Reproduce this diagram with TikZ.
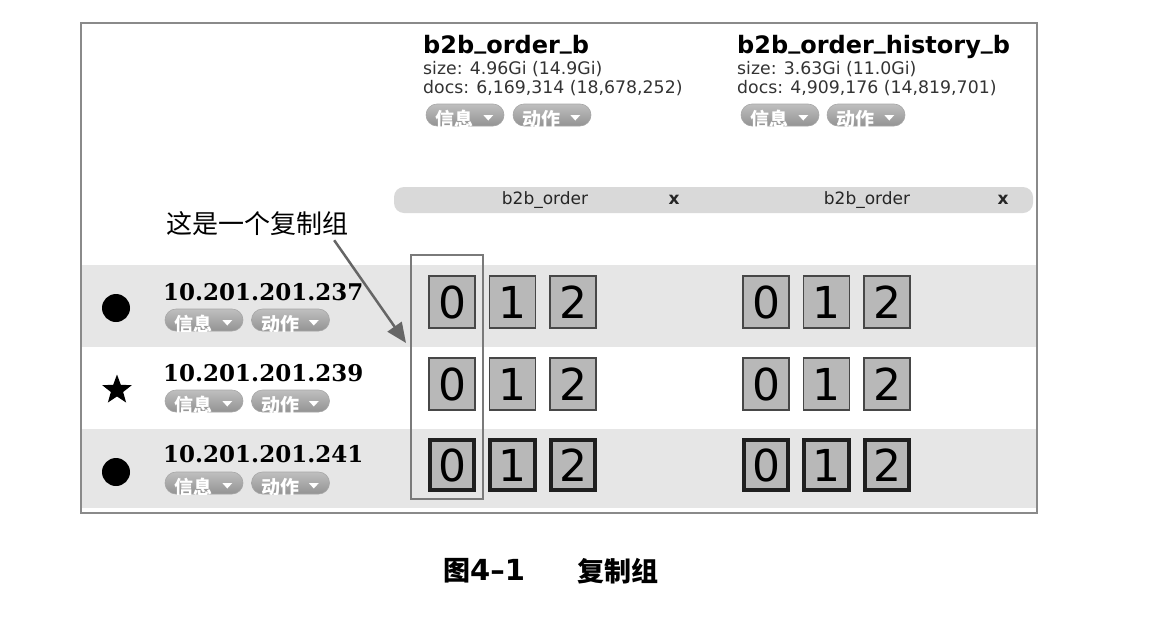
\documentclass[tikz,border=0pt]{standalone}
\usepackage{fontspec}
\setmainfont{DejaVu Sans}
\newfontfamily\ipfont{DejaVu Serif}
\newfontfamily\cjk{Noto Sans CJK SC}
\usetikzlibrary{arrows.meta,shapes.geometric}
\definecolor{band}{HTML}{E6E6E6}
\definecolor{barcol}{HTML}{D9D9D9}
\definecolor{shardfill}{HTML}{B8B8B8}
\definecolor{shardline}{HTML}{474747}
\definecolor{framecol}{HTML}{8A8A8A}
\definecolor{grpcol}{HTML}{7A7A7A}
\definecolor{arrowcol}{HTML}{666666}
\newcommand\usc{\raisebox{5pt}{\_}}
\tikzset{
  pillbox/.style={rounded corners=11pt, minimum width=78pt, minimum height=22pt, inner sep=0pt,
    top color=gray!50, bottom color=gray!85, draw=gray!70, line width=0.6pt},
  pilltext/.style={text=white, inner sep=0pt, anchor=west, font=\cjk\bfseries\fontsize{19}{19}\selectfont},
  shard/.style={draw=shardline, fill=shardfill, line width=1.8pt, minimum width=46pt, minimum height=52pt,
    inner sep=0pt, font=\fontsize{44}{44}\selectfont},
  primary/.style={shard, draw=black!88, line width=3.6pt, minimum width=44.5pt, minimum height=50.5pt},
  title/.style={anchor=base west, inner sep=0pt, font=\bfseries\fontsize{24}{24}\selectfont},
  info/.style={anchor=base west, inner sep=0pt, text=black!80, font=\fontsize{17.3}{17.3}\selectfont},
  iptext/.style={anchor=base west, inner sep=0pt, font=\ipfont\bfseries\fontsize{23}{23}\selectfont},
  bartext/.style={inner sep=0pt, text=black!85, font=\fontsize{17}{17}\selectfont},
  captext/.style={anchor=west, inner sep=0pt, font=\cjk\bfseries\fontsize{27}{27}\selectfont},
}
% pill button: name, x, y, text
\newcommand\pillbtn[4]{%
  \node[pillbox] (#1) at (#2,#3) {};
  \begin{scope}
    \clip[rounded corners=11pt] (#1.south west) rectangle (#1.north east);
    \node[pilltext] (#1t) at ([xshift=10pt,yshift=-4pt]#1.west) {#4};
  \end{scope}
  \fill[white] ([xshift=-21pt]#1.east) -- ++(10pt,0) -- ++(-5pt,-5.5pt) -- cycle;
}
\begin{document}
\begin{tikzpicture}[x=1pt,y=-1pt]
\useasboundingbox (0,0) rectangle (1174,632);
% row bands
\fill[band] (82,265) rectangle (1036,347);
\fill[band] (82,429) rectangle (1036,508);
% frame
\draw[framecol, line width=1.4pt] (81,23) rectangle (1037,513);
% index headers
\node[title] (t1) at (423,53) {b2b\usc order\usc b};
\node[info] (s1) at (423,74) {size: 4.96Gi (14.9Gi)};
\node[info] (d1) at (423,93) {docs: 6,169,314 (18,678,252)};
\pillbtn{h1a}{465}{115}{信息}
\pillbtn{h1b}{552}{115}{动作}
\node[title] (t2) at (737,53) {b2b\usc order\usc history\usc b};
\node[info] (s2) at (737,74) {size: 3.63Gi (11.0Gi)};
\node[info] (d2) at (737,93) {docs: 4,909,176 (14,819,701)};
\pillbtn{h2a}{780}{115}{信息}
\pillbtn{h2b}{866}{115}{动作}
% alias bar
\node[fill=barcol, rounded corners=10pt, minimum width=639pt, minimum height=26pt, inner sep=0pt] (bar) at (713.5,200) {};
\node[bartext] (a1) at (545,200) {b2b\_order};
\node[bartext, font=\bfseries\fontsize{17}{17}\selectfont] (x1) at (674,200) {x};
\node[bartext] (a2) at (867,200) {b2b\_order};
\node[bartext, font=\bfseries\fontsize{17}{17}\selectfont] (x2) at (1003,200) {x};
% nodes
\node[circle, fill=black, minimum size=28pt, inner sep=0pt] (m1) at (116,308) {};
\node[star, star points=5, star point ratio=2.4, fill=black, minimum size=31pt, inner sep=0pt] (m2) at (117,390) {};
\node[circle, fill=black, minimum size=28pt, inner sep=0pt] (m3) at (116,472) {};
\node[iptext] (ip1) at (163,300) {10.201.201.237};
\node[iptext] (ip2) at (163,381) {10.201.201.239};
\node[iptext] (ip3) at (163,462) {10.201.201.241};
\pillbtn{p1a}{204}{320}{信息}
\pillbtn{p1b}{290.5}{320}{动作}
\pillbtn{p2a}{204}{401}{信息}
\pillbtn{p2b}{290.5}{401}{动作}
\pillbtn{p3a}{204}{483}{信息}
\pillbtn{p3b}{290.5}{483}{动作}
% shards
\foreach \r/\y in {1/302,2/384} {
  \foreach \g/\x in {a/452,b/766} {
    \foreach \i in {0,1,2} {
      \node[shard] (s\g\r\i) at (\x+60.5*\i,\y) {\i};
    }
  }
}
\foreach \g/\x in {a/452,b/766} {
  \foreach \i in {0,1,2} {
    \node[primary] (s\g3\i) at (\x+60.5*\i,465) {\i};
  }
}
% replica group
\node[draw=grpcol, line width=2pt, minimum width=72pt, minimum height=244pt, inner sep=0pt] (grp) at (447,377) {};
\node[inner sep=0pt, font=\cjk\fontsize{26}{26}\selectfont] (lbl) at (257,224) {这是一个复制组};
\coordinate (tip) at (406,343);
\draw[arrowcol, line width=2.5pt, -{Triangle[length=20pt,width=17pt]}] ([xshift=-14pt,yshift=-4pt]lbl.south east) -- (tip);
% caption
\node[captext] (cap1) at (443,571) {图{\fontspec{DejaVu Sans}\bfseries\fontsize{29}{29}\selectfont 4–1}};
\node[captext] (cap2) at (577,571) {复制组};
\end{tikzpicture}
\end{document}
